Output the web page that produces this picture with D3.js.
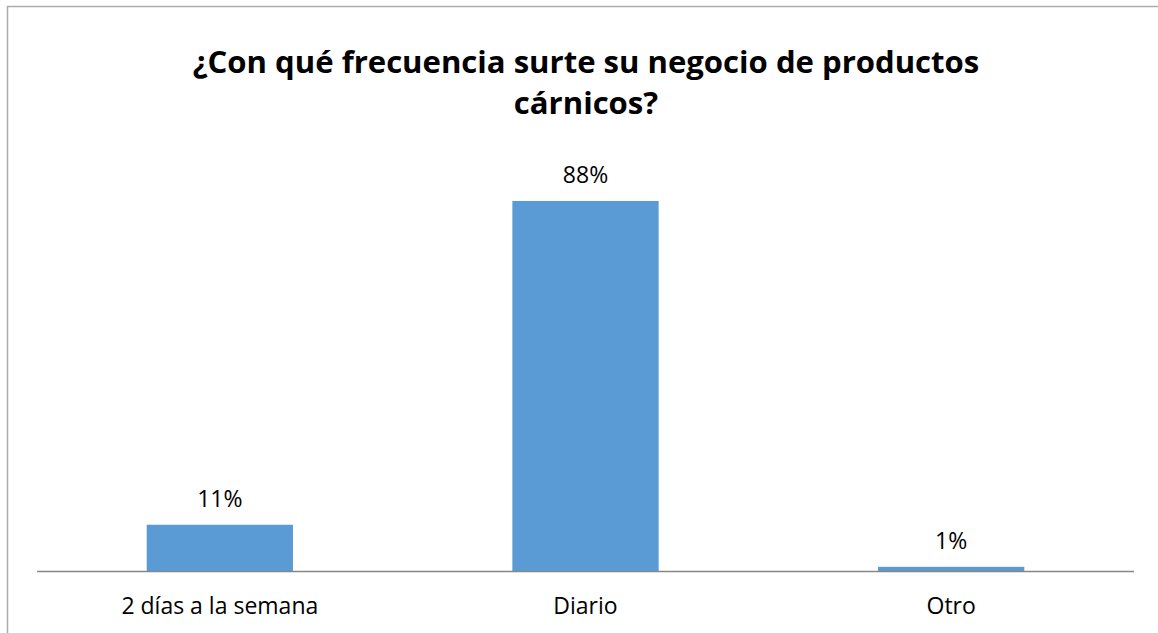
<!DOCTYPE html>
<html>
<head>
<meta charset="utf-8">
<script src="https://cdn.jsdelivr.net/npm/d3@7"></script>
<style>
  html, body { margin: 0; padding: 0; background: #fff; }
  svg { display: block; }
  text { font-family: "Open Sans", Lato, "Liberation Sans", sans-serif; fill: #000; }
</style>
</head>
<body>
<svg id="chart" width="1158" height="633"></svg>
<script>
const titleLines = ["¿Con qué frecuencia surte su negocio de productos", "cárnicos?"];
const categories = ["2 días a la semana", "Diario", "Otro"];
const values = [0.11, 0.88, 0.01];
const valueLabels = ["11%", "88%", "1%"];

const W = 1158, H = 633;
const plot = { left: 37, right: 1134, top: 150.5, bottom: 571 };

const svg = d3.select("#chart");

// fit a text element's font size so its rendered width equals `target`
function fitWidth(sel, target) {
  const base = 20;
  sel.attr("font-size", base);
  const w = sel.node().getComputedTextLength();
  return base * target / w;
}

// chart frame (left and top edges lie inside the viewport)
svg.append("rect")
  .attr("x", 7.5).attr("y", 6.5)
  .attr("width", W + 10).attr("height", H + 10)
  .attr("fill", "none")
  .attr("stroke", "#ababab")
  .attr("stroke-width", 1.5);

const x = d3.scaleBand()
  .domain(categories)
  .range([plot.left, plot.right])
  .paddingInner(0.6)
  .paddingOuter(0.3);

const y = d3.scaleLinear()
  .domain([0, 1])
  .range([plot.bottom, plot.top]);

// bars
svg.append("g")
  .selectAll("rect")
  .data(categories)
  .join("rect")
  .attr("x", d => x(d))
  .attr("width", x.bandwidth())
  .attr("y", (d, i) => y(values[i]))
  .attr("height", (d, i) => y(0) - y(values[i]))
  .attr("fill", "#5b9bd5");

// category axis
const xAxis = svg.append("g")
  .attr("transform", `translate(0,${plot.bottom})`)
  .call(d3.axisBottom(x).tickSize(0).tickPadding(0));
xAxis.select(".domain")
  .attr("d", `M${plot.left},0.5H${plot.right}`)
  .attr("stroke", "#868686")
  .attr("stroke-width", 1.3);
const tickTexts = xAxis.selectAll(".tick text")
  .attr("y", 43)
  .attr("dy", 0)
  .attr("font-family", "'Open Sans', Lato, sans-serif")
  .attr("fill", "#000");
const labelSize = fitWidth(tickTexts.filter((d, i) => i === 0), 197);
tickTexts.attr("font-size", labelSize);

// value labels
svg.append("g")
  .selectAll("text")
  .data(categories)
  .join("text")
  .attr("x", d => x(d) + x.bandwidth() / 2)
  .attr("y", (d, i) => y(values[i]) - 18)
  .attr("text-anchor", "middle")
  .attr("font-size", labelSize)
  .text((d, i) => valueLabels[i]);

// title: a tall bold face, narrowed horizontally to the title's line width
const title = svg.append("g");
const titleRows = title.selectAll("text")
  .data(titleLines)
  .join("text")
  .attr("x", 0)
  .attr("y", (d, i) => 73 + i * 41)
  .attr("text-anchor", "middle")
  .attr("font-weight", "bold")
  .attr("font-size", 31)
  .text(d => d);
const natural = titleRows.filter((d, i) => i === 0).node().getComputedTextLength();
title.attr("transform", `translate(586,0) scale(${787 / natural},1)`);
</script>
</body>
</html>
